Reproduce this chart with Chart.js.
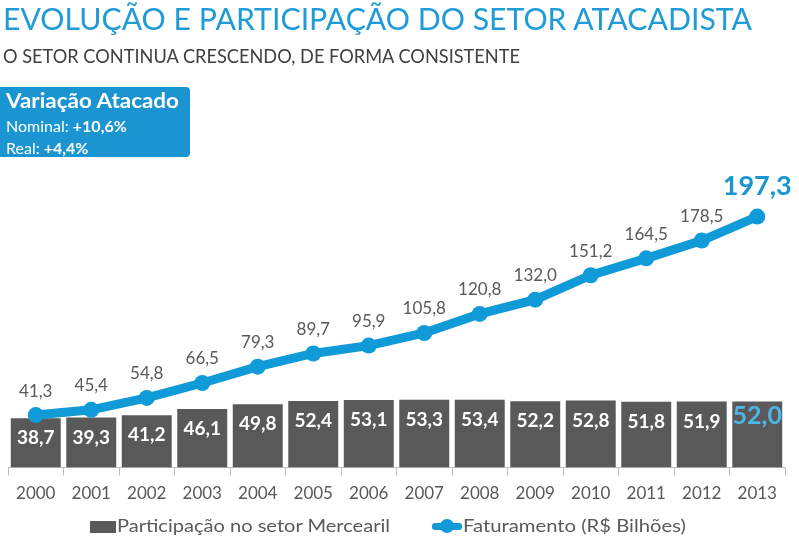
<!DOCTYPE html>
<html>
<head>
<meta charset="utf-8">
<script src="https://cdn.jsdelivr.net/npm/chart.js@4/dist/chart.umd.min.js"></script>
<style>
  html, body { margin: 0; padding: 0; background: #fff; }
  body { width: 799px; height: 545px; position: relative; overflow: hidden; font-family: Lato, "Open Sans", sans-serif; }
  #wrap { position: absolute; left: 0; top: 0; width: 799px; height: 545px; }
  .fit { position: absolute; white-space: nowrap; transform-origin: 0 0; }
  #title { left: 3px; top: 0px; font-size: 30px; color: #1f9bd7; font-weight: 400; }
  #sub { left: 3px; top: 43px; font-size: 20px; color: #404040; }
  #box { position: absolute; left: 0; top: 87px; width: 190px; height: 70px; background: #1a95d2; border-radius: 0 4px 4px 0; color: #fff; }
  #box .l1 { position: absolute; left: 6px; top: 1px; font-size: 20px; font-weight: 700; }
  #box .l2 { position: absolute; left: 6px; top: 29px; font-size: 16px; }
  #box .l3 { position: absolute; left: 6px; top: 51px; font-size: 16px; }
  .leg { position: absolute; top: 514px; font-size: 18px; color: #595959; white-space: nowrap; }
  #legBar { position: absolute; left: 90px; top: 521px; width: 26px; height: 12px; background: #595959; }
  #legLine { position: absolute; left: 432px; top: 523px; width: 30px; height: 7px; background: #109ad7; border-radius: 3px; }
  #legDot { position: absolute; left: 440px; top: 519px; width: 14px; height: 14px; background: #109ad7; border-radius: 50%; }
</style>
</head>
<body>
<div id="wrap"><canvas id="c" width="799" height="545"></canvas></div>
<div id="title" class="fit" data-w="749">EVOLUÇÃO E PARTICIPAÇÃO DO SETOR ATACADISTA</div>
<div id="sub" class="fit" data-w="517">O SETOR CONTINUA CRESCENDO, DE FORMA CONSISTENTE</div>
<div id="box">
  <div class="l1 fit" data-w="173">Variação Atacado</div>
  <div class="l2">Nominal: <b>+10,6%</b></div>
  <div class="l3">Real: <b>+4,4%</b></div>
</div>
<div id="legBar"></div>
<div class="leg fit" style="left:117px" data-w="273">Participação no setor Mercearil</div>
<div id="legLine"></div><div id="legDot"></div>
<div class="leg fit" style="left:463px" data-w="223">Faturamento (R$ Bilhões)</div>
<script>
const years = ["2000","2001","2002","2003","2004","2005","2006","2007","2008","2009","2010","2011","2012","2013"];
const participacao = [38.7, 39.3, 41.2, 46.1, 49.8, 52.4, 53.1, 53.3, 53.4, 52.2, 52.8, 51.8, 51.9, 52.0];
const faturamento = [41.3, 45.4, 54.8, 66.5, 79.3, 89.7, 95.9, 105.8, 120.8, 132.0, 151.2, 164.5, 178.5, 197.3];

document.querySelectorAll('.fit').forEach(el => {
  const target = parseFloat(el.dataset.w);
  const w = el.getBoundingClientRect().width;
  if (w > 0) el.style.transform = 'scaleX(' + (target / w) + ')';
});

const fmt = v => v.toFixed(1).replace('.', ',');
const FONT = 'Lato, "Open Sans", sans-serif';

const labelPlugin = {
  id: 'labels',
  afterDatasetsDraw(chart) {
    const ctx = chart.ctx;
    ctx.save();
    ctx.textAlign = 'center';
    ctx.textBaseline = 'middle';
    const barMeta = chart.getDatasetMeta(0);
    barMeta.data.forEach((el, i) => {
      const last = i === participacao.length - 1;
      if (last) {
        ctx.font = 'bold 25px ' + FONT;
        ctx.fillStyle = '#4db6e8';
        ctx.fillText(fmt(participacao[i]), el.x, el.y + 14);
      } else {
        ctx.font = 'bold 19px ' + FONT;
        ctx.fillStyle = '#ffffff';
        ctx.fillText(fmt(participacao[i]), el.x, el.y + 20);
      }
    });
    const lineMeta = chart.getDatasetMeta(1);
    lineMeta.data.forEach((el, i) => {
      const last = i === faturamento.length - 1;
      if (last) {
        ctx.font = 'bold 27px ' + FONT;
        ctx.fillStyle = '#1a95d2';
        ctx.fillText(fmt(faturamento[i]), el.x, el.y - 30);
      } else {
        ctx.font = '17px ' + FONT;
        ctx.fillStyle = '#595959';
        ctx.fillText(fmt(faturamento[i]), el.x, el.y - 24);
      }
    });
    ctx.restore();
  }
};

new Chart(document.getElementById('c'), {
  data: {
    labels: years,
    datasets: [
      {
        type: 'bar',
        label: 'Participação no setor Mercearil',
        data: participacao,
        backgroundColor: '#595959',
        categoryPercentage: 1.0,
        barPercentage: 0.9,
        order: 2
      },
      {
        type: 'line',
        label: 'Faturamento (R$ Bilhões)',
        data: faturamento,
        borderColor: '#109ad7',
        backgroundColor: '#109ad7',
        borderWidth: 9,
        pointRadius: 8,
        pointBackgroundColor: '#109ad7',
        pointBorderWidth: 0,
        tension: 0,
        order: 1
      }
    ]
  },
  options: {
    responsive: false,
    animation: false,
    layout: { padding: { left: 6, right: 14, top: 175, bottom: 33 } },
    plugins: { legend: { display: false }, tooltip: { enabled: false } },
    scales: {
      x: {
        offset: true,
        grid: { display: true, drawOnChartArea: false, drawTicks: true, tickLength: 8, color: '#bfbfbf', offset: true },
        border: { display: true, color: '#bfbfbf', width: 1 },
        ticks: { color: '#595959', font: { size: 17, family: FONT }, padding: 8 }
      },
      y: { display: false, min: 0, max: 230 }
    }
  },
  plugins: [labelPlugin]
});
</script>
</body>
</html>
